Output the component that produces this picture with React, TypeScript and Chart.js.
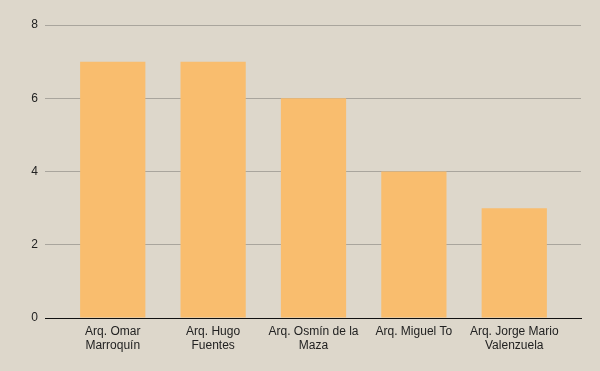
import React, { useEffect, useRef } from "react";
import { Chart, registerables } from "chart.js";

Chart.register(...registerables);

const categories: string[][] = [
  ["Arq. Omar", "Marroquín"],
  ["Arq. Hugo", "Fuentes"],
  ["Arq. Osmín de la", "Maza"],
  ["Arq. Miguel To"],
  ["Arq. Jorge Mario", "Valenzuela"],
];
const values: number[] = [7, 7, 6, 4, 3];
const yTicks: number[] = [0, 2, 4, 6, 8];

export default function App() {
  const ref = useRef<HTMLCanvasElement | null>(null);
  useEffect(() => {
    document.body.style.margin = "0";
    const ctx = ref.current!;
    const chart = new Chart(ctx, {
      type: "bar",
      data: {
        datasets: [
          {
            data: values.map((v, i) => ({ x: i, y: v })),
            backgroundColor: "#f9bd6e",
            categoryPercentage: 1,
            barPercentage: 0.65,
          },
        ],
      },
      options: {
        animation: false,
        responsive: false,
        maintainAspectRatio: false,
        layout: { padding: { top: 25, right: 19, left: 0, bottom: 0 } },
        plugins: { legend: { display: false }, tooltip: { enabled: false } },
        scales: {
          x: {
            type: "linear",
            offset: false,
            min: -0.675,
            max: 4.665,
            afterBuildTicks: (s: any) => {
              s.ticks = categories.map((_, i) => ({ value: i }));
            },
            afterFit: (s: any) => {
              s.height = 53;
            },
            grid: { display: false, drawTicks: false, offset: false },
            border: { display: true, color: "#111", width: 1 },
            ticks: {
              color: "#222",
              font: { family: "Liberation Sans", size: 12 },
              padding: 6,
              maxRotation: 0,
              autoSkip: false,
              callback: (v: any) => categories[Math.round(Number(v))] ?? "",
            },
          },
          y: {
            min: 0,
            max: 8,
            afterBuildTicks: (s: any) => {
              s.ticks = yTicks.map((v) => ({ value: v }));
            },
            afterFit: (s: any) => {
              s.width = 45;
            },
            grid: {
              drawTicks: false,
              color: (c: any) => (c.tick && c.tick.value === 0 ? "#111" : "#a9a59d"),
              lineWidth: 1,
            },
            border: { display: false },
            ticks: {
              color: "#222",
              font: { family: "Liberation Sans", size: 12 },
              padding: 7,
            },
          },
        },
      },
    });
    return () => chart.destroy();
  }, []);
  return (
    <div style={{ width: 600, height: 371, background: "#ddd7cb" }}>
      <canvas ref={ref} width={600} height={371} style={{ display: "block" }} />
    </div>
  );
}
